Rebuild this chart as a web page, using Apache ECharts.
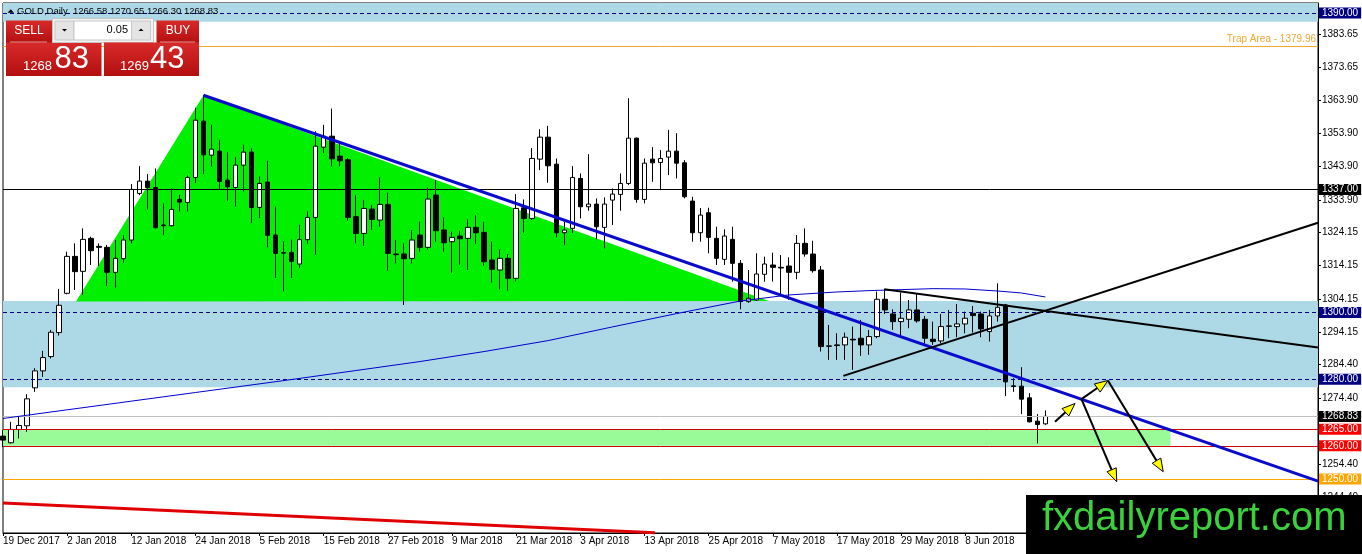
<!DOCTYPE html>
<html><head><meta charset="utf-8">
<script src="https://cdn.jsdelivr.net/npm/echarts@6/dist/echarts.min.js"></script>
<style>html,body{margin:0;padding:0;background:#fff}#c{width:1362px;height:554px}</style>
</head><body><div id="c"></div>
<script>
// ---- trading days shown on the chart ----
const dec2017 = [19,20,21,22,26,27,28,29];
const jan2018 = [2,3,4,5,8,9,10,11,12,15,16,17,18,19,22,23,24,25,26,29,30,31];
const feb2018 = [1,2,5,6,7,8,9,12,13,14,15,16,19,20,21,22,23,26,27,28];
const mar2018 = [1,2,5,6,7,8,9,12,13,14,15,16,19,20,21,22,23,26,27,28,29];
const apr2018 = [2,3,4,5,6,9,10,11,12,13,16,17,18,19,20,23,24,25,26,27,30];
const may2018 = [1,2,3,4,7,8,9,10,11,14,15,16,17,18,21,22,23,24,25,28,29,30,31];
const jun2018 = [1,4,5,6,7,8,11,12,13,14,15,18,19,20,21,22];
const futureSlots = 34;

// ---- OHLC ----
const opens = [1262.9,1260.9,1264.9,1266.0,1277.4,1282.5,1286.8,1294.0,1305.8,1316.9,
1312.4,1322.3,1319.9,1319.6,1312.1,1316.2,1321.8,1335.8,1339.5,1337.6,
1326.3,1326.1,1334.0,1333.1,1340.6,1357.5,1347.3,1348.5,1339.8,1337.6,
1344.3,1348.2,1331.6,1339.2,1323.3,1318.0,1318.1,1314.6,1321.9,1328.6,
1349.7,1353.0,1347.0,1345.9,1328.8,1323.8,1331.1,1327.8,1332.5,1317.6,
1317.6,1316.3,1323.3,1319.6,1335.3,1324.8,1321.3,1323.0,1322.3,1325.6,
1324.1,1315.8,1312.8,1316.3,1310.3,1331.5,1328.3,1346.1,1352.7,1344.6,
1324.0,1325.3,1340.3,1331.8,1332.6,1325.6,1333.8,1335.5,1338.8,1352.4,
1334.0,1346.1,1345.1,1346.7,1348.5,1345.0,1333.5,1324.0,1330.0,1322.3,
1316.0,1322.0,1314.8,1303.3,1303.8,1311.5,1314.3,1313.6,1314.0,1312.1,
1320.8,1317.6,1312.8,1290.0,1290.3,1290.3,1292.0,1292.3,1290.3,1292.8,
1304.0,1299.6,1297.3,1298.0,1300.8,1298.0,1292.0,1291.5,1296.0,1295.8,
1296.6,1299.8,1299.6,1294.3,1299.0,1302.3,1278.0,1277.9,1274.4,1267.4,
1266.58];
const highs = [1264.7,1267.2,1268.7,1275.5,1283.3,1288.5,1294.8,1307.1,1318.3,1320.8,
1325.3,1322.8,1320.8,1320.3,1321.8,1323.3,1338.6,1344.0,1341.6,1343.3,
1332.8,1337.3,1335.4,1341.2,1361.5,1365.3,1356.4,1351.9,1348.2,1346.7,
1350.4,1349.4,1340.9,1345.6,1331.9,1321.4,1321.9,1326.4,1330.4,1354.5,
1356.4,1361.3,1350.9,1346.4,1335.3,1333.8,1332.3,1340.6,1336.0,1321.8,
1320.8,1324.8,1327.3,1337.6,1339.8,1328.6,1324.3,1324.6,1328.0,1329.3,
1327.3,1321.3,1319.0,1317.6,1335.6,1334.0,1349.4,1355.1,1356.1,1346.3,
1327.3,1344.0,1341.8,1347.6,1334.3,1334.6,1337.3,1341.8,1364.4,1352.6,
1346.3,1349.7,1348.8,1354.9,1353.9,1345.8,1334.8,1331.4,1331.5,1325.8,
1325.0,1325.8,1315.8,1312.8,1317.8,1316.8,1318.0,1317.3,1316.6,1323.3,
1325.3,1321.6,1314.0,1296.3,1293.8,1294.0,1295.8,1297.8,1294.8,1306.3,
1307.0,1301.0,1306.0,1303.8,1305.8,1299.0,1297.3,1299.6,1300.8,1302.6,
1300.3,1302.0,1300.3,1300.8,1308.8,1302.6,1280.3,1283.6,1275.8,1269.5,
1270.65];
const lows = [1259.6,1260.7,1262.2,1264.2,1276.2,1280.7,1286.2,1293.1,1305.5,1306.8,
1305.3,1314.3,1314.0,1308.0,1307.5,1315.0,1320.8,1335.3,1331.0,1325.3,
1323.3,1325.8,1330.4,1330.4,1338.9,1341.6,1343.9,1336.9,1333.6,1331.9,
1336.4,1326.9,1328.4,1319.6,1310.4,1306.4,1310.4,1313.4,1320.6,1317.4,
1347.9,1343.9,1343.9,1327.6,1320.8,1320.0,1324.8,1325.8,1312.6,1314.8,
1302.3,1314.8,1318.3,1319.0,1321.3,1318.3,1312.0,1314.3,1312.8,1320.6,
1314.1,1309.0,1307.0,1306.6,1309.3,1324.0,1327.8,1342.8,1339.0,1322.6,
1320.3,1324.0,1328.3,1330.6,1322.0,1319.3,1326.3,1330.6,1338.3,1333.0,
1332.8,1339.3,1336.8,1341.3,1340.3,1334.3,1321.3,1321.3,1317.8,1314.3,
1314.3,1309.3,1301.0,1303.0,1303.5,1309.3,1309.3,1305.3,1303.8,1310.0,
1316.8,1312.0,1288.3,1285.8,1285.8,1285.8,1282.8,1287.0,1287.3,1292.3,
1299.6,1294.8,1292.8,1295.3,1297.0,1290.6,1290.3,1290.8,1292.3,1292.6,
1293.8,1294.0,1292.6,1291.3,1297.3,1274.9,1276.2,1269.5,1267.0,1260.7,
1266.30];
const closes = [1261.7,1264.9,1266.1,1274.1,1282.5,1286.5,1294.1,1302.2,1316.9,1312.3,
1322.0,1318.6,1319.6,1312.1,1316.3,1321.8,1337.0,1339.5,1337.6,1325.5,
1326.1,1331.0,1333.2,1340.6,1357.8,1347.4,1349.1,1339.4,1337.8,1344.3,
1348.2,1331.6,1338.8,1323.2,1317.8,1317.9,1315.4,1321.9,1328.6,1350.0,
1353.0,1346.2,1345.6,1328.6,1323.8,1331.3,1328.0,1332.5,1317.8,1317.4,
1316.2,1321.8,1319.6,1334.1,1324.6,1321.0,1322.6,1322.2,1325.6,1324.0,
1315.3,1313.0,1316.3,1310.3,1331.3,1328.3,1346.3,1352.7,1344.1,1324.0,
1324.8,1340.6,1331.8,1332.6,1325.8,1332.6,1335.6,1338.8,1352.4,1334.0,
1344.9,1345.0,1346.3,1348.5,1344.9,1334.8,1324.0,1329.3,1322.6,1316.3,
1323.0,1314.8,1303.3,1304.3,1311.6,1314.6,1313.6,1313.4,1312.1,1320.8,
1317.6,1312.6,1289.8,1289.9,1290.1,1292.6,1291.8,1290.3,1292.8,1304.0,
1300.8,1297.3,1298.3,1300.8,1297.5,1292.3,1291.3,1295.8,1295.9,1296.6,
1298.3,1299.1,1295.1,1299.0,1301.6,1279.2,1277.8,1274.0,1267.2,1266.4,
1268.83];

// ---- moving average (sampled bar index -> value) ----
const maIndex = [0,8,16,24,36,44,52,60,68,76,84,92,98,104,108,116,120,124,127,130];
const maValue = [1268.2,1270.8,1273.4,1276.0,1279.9,1282.6,1285.3,1288.3,1291.6,1295.7,1299.7,1303.5,1305.3,1306.2,1306.6,1307.2,1307.1,1306.5,1305.9,1304.7];

// ---- price scale tick labels ----
const priceTicks = [1383.65,1373.65,1363.90,1353.90,1343.90,1333.90,1324.15,1314.15,1304.15,1294.15,1284.40,1274.40,1264.40,1254.40,1244.40];

// ---- horizontal levels ----
const levelPrices = [1390, 1379.96, 1337, 1300, 1280, 1268.83, 1265, 1260, 1250];

// ---- zones: [fromBar, toBar, lowPrice, highPrice] ----
const zones = [[0,164,1277.6,1303.5],[0,164,1387.4,1393.0],[0,145.6,1260,1265]];
// ---- triangle: bar, price pairs ----
const triangle = [9.1,1303.3, 25,1365.3, 95.5,1303.5];
// ---- trend lines: [bar0, price0, bar1, price1] ----
const trendLines = [[25,1365.3,164,1249.4],[104.8,1281.0,164,1327.0],[109.9,1307.0,164,1289.5],[0,1242.8,81.3,1233.9]];
// ---- arrows: [bar0, price0, bar1, price1] ----
const arrows = [[131.2,1267.2,133.7,1272.7],[134.5,1274.0,137.8,1279.6],[134.5,1274.0,138.9,1249.2],[137.8,1279.6,144.7,1252.2]];

const quote = {open:1266.58, high:1270.65, low:1266.30, close:1268.83, bidBig:'1268', bidSmall:'83', askBig:'1269', askSmall:'43', lot:'0.05'};

// ---- build ----
const FONT = '"Liberation Sans", Arial, sans-serif';
const categories = [].concat(
  dec2017.map(d => d + ' Dec 2017'), jan2018.map(d => d + ' Jan 2018'), feb2018.map(d => d + ' Feb 2018'),
  mar2018.map(d => d + ' Mar 2018'), apr2018.map(d => d + ' Apr 2018'), may2018.map(d => d + ' May 2018'),
  jun2018.map(d => d + ' Jun 2018'));
for (let i = 0; i < futureSlots; i++) categories.push('');
const lastIdx = categories.length - 1;
const candleData = opens.map((o, i) => [o, closes[i], lows[i], highs[i]]);
const maData = maIndex.map((x, i) => [x, maValue[i]]);

const levelStyles = [
  {line:'#000080', dash:true, box:'#000080'},
  {line:'#F0A830', trap:true},
  {line:'#000000', box:'#000000'},
  {line:'#000080', dash:true, box:'#000080'},
  {line:'#000080', dash:true, box:'#000080'},
  {line:'#C0C0C0', box:'#000000'},
  {line:'#D00000', box:'#FF0000'},
  {line:'#D00000', box:'#FF0000'},
  {line:'#FFA500', box:'#FFA500'}
];
const levelLines = levelPrices.map((v, i) => {
  const s = levelStyles[i];
  return {
    yAxis: v,
    lineStyle: {color: s.line, width: 1, type: s.dash ? [4, 3] : 'solid'},
    label: s.trap
      ? {show: true, position: 'insideEndTop', formatter: 'Trap Area - ' + v.toFixed(2), color: '#F0A830', fontSize: 10, fontFamily: FONT, distance: 2}
      : {show: true, position: 'end', formatter: v.toFixed(2), color: '#fff', backgroundColor: s.box, padding: [1, 3, 0, 3], fontSize: 10, fontFamily: FONT, distance: 1}
  };
});

const zoneColors = ['#ADD8E6', '#ADD8E6', '#98FB98'];
const trendStyles = [{c:'#0A0ACD', w:3}, {c:'#000', w:2}, {c:'#000', w:2}, {c:'#E00000', w:3}];

const redGrad = {type:'linear', x:0, y:0, x2:0, y2:1, colorStops:[{offset:0, color:'#D82A2A'}, {offset:1, color:'#B30E0E'}]};

const option = {
  animation: false,
  backgroundColor: '#fff',
  grid: {left: 3, right: 44, top: 3, bottom: 21, show: true, borderColor: '#000', borderWidth: 1, backgroundColor: '#fff'},
  xAxis: [
    {type: 'category', data: categories, boundaryGap: false,
     axisLine: {onZero: false, lineStyle: {color: '#000'}},
     axisTick: {interval: 7, length: 3, lineStyle: {color: '#000'}},
     axisLabel: {interval: 7, align: 'left', color: '#000', fontSize: 10, fontFamily: FONT, margin: 3},
     splitLine: {show: false}},
    {type: 'value', min: 0, max: lastIdx, show: false, axisLine: {onZero: false}}
  ],
  yAxis: {
    type: 'value', position: 'right', min: 1233.8, max: 1393.0, scale: true,
    axisLine: {show: true, onZero: false, lineStyle: {color: '#000'}},
    axisTick: {show: true, length: 3, customValues: priceTicks, lineStyle: {color: '#000'}},
    axisLabel: {customValues: priceTicks, formatter: v => Number(v).toFixed(2), color: '#000', fontSize: 10, fontFamily: FONT, margin: 4},
    splitLine: {show: false}
  },
  series: [
    {type: 'custom', name: 'zones', xAxisIndex: 1, silent: true, z: 1, data: zones,
     renderItem: (p, api) => {
       const a = api.coord([api.value(0), api.value(3)]);
       const b = api.coord([api.value(1), api.value(2)]);
       return {type: 'rect', shape: {x: a[0], y: a[1], width: b[0] - a[0], height: b[1] - a[1]}, style: {fill: zoneColors[p.dataIndex]}};
     }},
    {type: 'custom', name: 'triangle', xAxisIndex: 1, silent: true, z: 1.5, data: [triangle],
     renderItem: (p, api) => {
       const pts = [0, 2, 4].map(k => api.coord([api.value(k), api.value(k + 1)]));
       return {type: 'polygon', shape: {points: pts}, style: {fill: '#00F000'}};
     }},
    {type: 'candlestick', name: 'GOLD', xAxisIndex: 0, data: candleData, barWidth: 5, z: 3, silent: true,
     itemStyle: {color: '#FFFFFF', color0: '#000000', borderColor: '#000000', borderColor0: '#000000', borderWidth: 1}},
    {type: 'line', name: 'MA', xAxisIndex: 1, data: maData, symbol: 'none', z: 5, silent: true,
     lineStyle: {color: '#0000CC', width: 1},
     markLine: {symbol: ['none', 'none'], silent: true, animation: false, data: levelLines}},
    {type: 'custom', name: 'trend', xAxisIndex: 1, silent: true, z: 6, data: trendLines,
     renderItem: (p, api) => {
       const a = api.coord([api.value(0), api.value(1)]);
       const b = api.coord([api.value(2), api.value(3)]);
       const s = trendStyles[p.dataIndex];
       return {type: 'line', shape: {x1: a[0], y1: a[1], x2: b[0], y2: b[1]}, style: {stroke: s.c, lineWidth: s.w}};
     }},
    {type: 'custom', name: 'arrows', xAxisIndex: 1, silent: true, z: 7, data: arrows,
     renderItem: (p, api) => {
       const a = api.coord([api.value(0), api.value(1)]);
       const b = api.coord([api.value(2), api.value(3)]);
       const dx = b[0] - a[0], dy = b[1] - a[1];
       const len = Math.sqrt(dx * dx + dy * dy) || 1;
       const ux = dx / len, uy = dy / len;
       const hl = 13, hw = 5;
       const bx = b[0] - ux * hl, by = b[1] - uy * hl;
       return {type: 'group', children: [
         {type: 'line', shape: {x1: a[0], y1: a[1], x2: bx, y2: by}, style: {stroke: '#000', lineWidth: 2}},
         {type: 'polygon', shape: {points: [[b[0], b[1]], [bx - uy * hw, by + ux * hw], [bx + uy * hw, by - ux * hw]]},
          style: {fill: '#FFFF00', stroke: '#000', lineWidth: 1}}
       ]};
     }}
  ],
  graphic: [
    {type: 'polygon', z: 100, shape: {points: [[7.5, 12.8], [10.8, 9.3], [14, 12.8]]}, style: {fill: '#000'}},
    {type: 'text', z: 100, x: 17, y: 11.5, style: {text: 'GOLD,Daily  ' + [quote.open, quote.high, quote.low, quote.close].map(v => v.toFixed(2)).join(' '), fill: '#000', fontSize: 9.5, fontFamily: FONT, verticalAlign: 'middle', textVerticalAlign: 'middle'}},
    // SELL block
    {type: 'rect', z: 100, shape: {x: 6, y: 20.5, width: 46, height: 23}, style: {fill: redGrad}},
    {type: 'rect', z: 100, shape: {x: 6, y: 42.5, width: 95.5, height: 33.5}, style: {fill: redGrad}},
    {type: 'line', z: 101, shape: {x1: 10, y1: 42, x2: 47, y2: 42}, style: {stroke: 'rgba(255,255,255,0.55)', lineWidth: 1}},
    {type: 'text', z: 101, x: 29, y: 31, style: {text: 'SELL', fill: '#fff', fontSize: 12, fontFamily: FONT, align: 'center', verticalAlign: 'middle', textAlign: 'center', textVerticalAlign: 'middle'}},
    {type: 'text', z: 101, x: 23, y: 66, style: {text: quote.bidBig, fill: '#fff', fontSize: 13, fontFamily: FONT, verticalAlign: 'middle', textVerticalAlign: 'middle'}},
    {type: 'text', z: 101, x: 54.5, y: 59, style: {text: quote.bidSmall, fill: '#fff', fontSize: 31, fontFamily: FONT, verticalAlign: 'middle', textVerticalAlign: 'middle'}},
    // lot selector
    {type: 'rect', z: 100, shape: {x: 52.5, y: 18.5, width: 101, height: 24}, style: {fill: '#F2F2F2', stroke: '#C4C4C4', lineWidth: 1}},
    {type: 'rect', z: 101, shape: {x: 55, y: 21, width: 19, height: 19}, style: {fill: '#E4E4E4', stroke: '#C8C8C8', lineWidth: 1}},
    {type: 'rect', z: 101, shape: {x: 74, y: 21, width: 57.5, height: 19}, style: {fill: '#FFFFFF', stroke: '#C8C8C8', lineWidth: 1}},
    {type: 'rect', z: 101, shape: {x: 131.5, y: 21, width: 19, height: 19}, style: {fill: '#E4E4E4', stroke: '#C8C8C8', lineWidth: 1}},
    {type: 'polygon', z: 102, shape: {points: [[62, 29], [67, 29], [64.5, 31.5]]}, style: {fill: '#000'}},
    {type: 'polygon', z: 102, shape: {points: [[138.5, 31], [143.5, 31], [141, 28.5]]}, style: {fill: '#000'}},
    {type: 'text', z: 102, x: 128, y: 30, style: {text: quote.lot, fill: '#000', fontSize: 11, fontFamily: FONT, align: 'right', verticalAlign: 'middle', textAlign: 'right', textVerticalAlign: 'middle'}},
    // BUY block
    {type: 'rect', z: 100, shape: {x: 156.5, y: 20.5, width: 42.5, height: 23}, style: {fill: redGrad}},
    {type: 'rect', z: 100, shape: {x: 104, y: 42.5, width: 95, height: 33.5}, style: {fill: redGrad}},
    {type: 'line', z: 101, shape: {x1: 160, y1: 42, x2: 195, y2: 42}, style: {stroke: 'rgba(255,255,255,0.55)', lineWidth: 1}},
    {type: 'text', z: 101, x: 178, y: 31, style: {text: 'BUY', fill: '#fff', fontSize: 12, fontFamily: FONT, align: 'center', verticalAlign: 'middle', textAlign: 'center', textVerticalAlign: 'middle'}},
    {type: 'text', z: 101, x: 120, y: 66, style: {text: quote.askBig, fill: '#fff', fontSize: 13, fontFamily: FONT, verticalAlign: 'middle', textVerticalAlign: 'middle'}},
    {type: 'text', z: 101, x: 150, y: 59, style: {text: quote.askSmall, fill: '#fff', fontSize: 31, fontFamily: FONT, verticalAlign: 'middle', textVerticalAlign: 'middle'}},
    // watermark
    {type: 'rect', z: 100, shape: {x: 1026, y: 495, width: 336, height: 59}, style: {fill: '#000'}},
    {type: 'text', z: 101, x: 1042, y: 519, style: {text: 'fxdailyreport.com', fill: '#3BD13B', fontSize: 40, fontFamily: FONT, verticalAlign: 'middle', textVerticalAlign: 'middle'}}
  ]
};
const chart = echarts.init(document.getElementById('c'), null, {renderer: 'canvas'});
chart.setOption(option);
</script>
</body></html>
